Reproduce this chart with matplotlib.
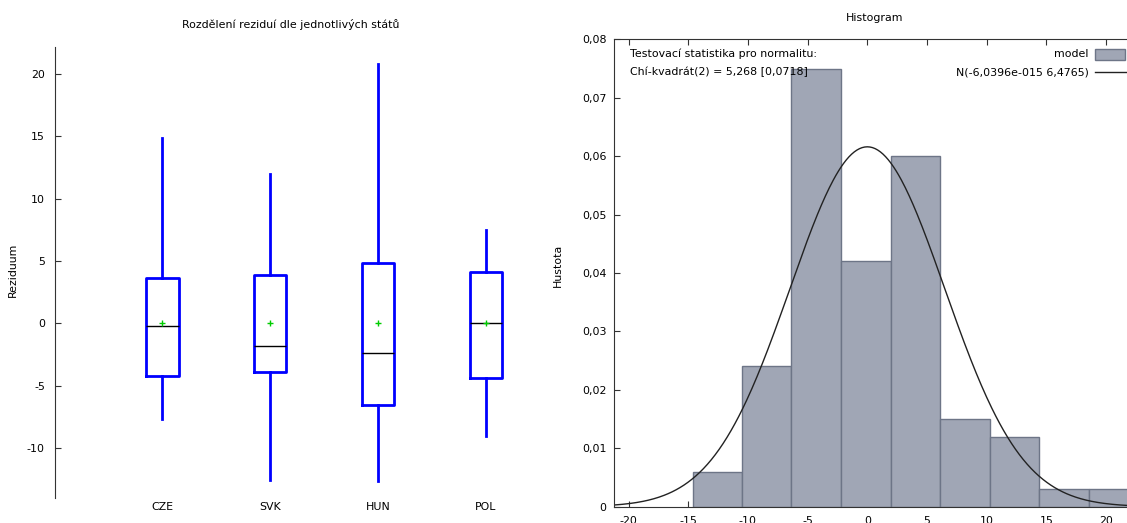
import numpy as np
import matplotlib.pyplot as plt
from matplotlib.patches import Rectangle
from matplotlib.lines import Line2D
from matplotlib.ticker import FuncFormatter

# box plot of residuals per country
countries = ["CZE", "SVK", "HUN", "POL"]
whis_lo = [-7.67, -12.54, -12.65, -9.01]
q1 = [-4.25, -3.90, -6.58, -4.41]
median = [-0.19, -1.82, -2.35, 0.0]
q3 = [3.61, 3.90, 4.87, 4.14]
whis_hi = [14.84, 11.95, 20.83, 7.51]
means = [0.0, 0.0, 0.0, 0.0]

# histogram of residuals (density) + fitted normal
bin_edges = [-14.63, -10.51, -6.36, -2.21, 1.94, 6.09, 10.24, 14.39, 18.54, 22.69]
density = [0.006, 0.024, 0.075, 0.042, 0.060, 0.015, 0.012, 0.003, 0.003]
norm_mu = -6.0396e-15
norm_sd = 6.4765

W, H = 1127, 523
plt.rcParams['font.family'] = 'DejaVu Sans'
plt.rcParams['axes.unicode_minus'] = False
fig = plt.figure(figsize=(W / 100, H / 100), dpi=100)
fs = 7.9

comma = FuncFormatter(lambda v, p: ("%g" % round(v, 4)).replace(".", ","))

# ---- left: box plot ----
ax1 = fig.add_axes([54.6 / W, 25.3 / H, 496 / W, 451 / H])
stats = []
for i in range(len(countries)):
    stats.append(dict(whislo=whis_lo[i], q1=q1[i], med=median[i], q3=q3[i],
                      whishi=whis_hi[i], mean=means[i], label=countries[i]))
ax1.bxp(stats, positions=[1, 2, 3, 4], widths=0.3, showcaps=False,
        showfliers=False, showmeans=True,
        boxprops=dict(color="#0000ff", lw=2),
        whiskerprops=dict(color="#0000ff", lw=2),
        medianprops=dict(color="black", lw=1),
        meanprops=dict(marker="+", markeredgecolor="#00cc00",
                       markersize=5, markeredgewidth=1))
ax1.set_xlim(0, 4.6)
ax1.set_ylim(-14.0, 22.2)
ax1.set_yticks([-10, -5, 0, 5, 10, 15, 20])
for s in ["top", "right", "bottom"]:
    ax1.spines[s].set_visible(False)
ax1.spines["left"].set_color("#333333")
ax1.tick_params(axis="y", direction="in", length=4, pad=7, labelsize=fs,
                colors="#333333", labelcolor="black")
ax1.tick_params(axis="x", length=0, pad=3, labelsize=fs)
ax1.set_ylabel("Reziduum", fontsize=fs)
ax1.yaxis.set_label_coords(-0.074, 0.505)
fig.text(291 / W, 1 - 25 / H, "Rozdělení reziduí dle jednotlivých států",
         ha="center", va="center", fontsize=fs)

# ---- right: histogram (right edge runs just past the canvas) ----
px_w = 1134 - 613.5
ax2 = fig.add_axes([613.5 / W, 16.3 / H, px_w / W, 467.4 / H])
widths = np.diff(bin_edges)
ax2.bar(bin_edges[:-1], density, width=widths, align="edge",
        color="#a0a6b5", edgecolor="#6d7587", linewidth=1, zorder=2)
xs = np.linspace(-21.3, 22.5, 400)
pdf = np.exp(-0.5 * ((xs - norm_mu) / norm_sd) ** 2) / (norm_sd * np.sqrt(2 * np.pi))
ax2.plot(xs, pdf, color="#222222", lw=1, zorder=3)
ax2.set_xlim(-21.26, -21.26 + px_w / 11.94)
ax2.set_ylim(0, 0.08)
ax2.set_xticks([-20, -15, -10, -5, 0, 5, 10, 15, 20])
ax2.set_yticks([0, 0.01, 0.02, 0.03, 0.04, 0.05, 0.06, 0.07, 0.08])
ax2.yaxis.set_major_formatter(comma)
ax2.set_axisbelow(True)
ax2.tick_params(direction="in", length=4, labelsize=fs, top=True, right=True,
                colors="#333333", labelcolor="black")
ax2.tick_params(axis="y", pad=5)
ax2.tick_params(axis="x", pad=7)
for s in ax2.spines.values():
    s.set_color("#333333")
    s.set_zorder(4)
ax2.set_ylabel("Hustota", fontsize=fs)
ax2.yaxis.set_label_coords(-50.5 / px_w, 0.517)
fig.text(875 / W, 1 - 18 / H, "Histogram", ha="center", va="center", fontsize=fs)


def ax_x(px):
    return (px - 613.5) / px_w


ax2.text(ax_x(629.8), 0.9686, "Testovací statistika pro normalitu:",
         transform=ax2.transAxes, ha="left", va="center", fontsize=fs, zorder=5)
ax2.text(ax_x(629.8), 0.930, "Chí-kvadrát(2) = 5,268 [0,0718]",
         transform=ax2.transAxes, ha="left", va="center", fontsize=fs, zorder=5)

# key
ax2.text(ax_x(1088.8), 0.9686, "model", transform=ax2.transAxes,
         ha="right", va="center", fontsize=fs, zorder=5)
ax2.add_patch(Rectangle((ax_x(1094.5), 0.9557), ax_x(1125) - ax_x(1094.5), 0.0236,
                        transform=ax2.transAxes, facecolor="#a0a6b5",
                        edgecolor="#6d7587", lw=1, zorder=5))
ax2.text(ax_x(1088.8), 0.930, "N(-6,0396e-015 6,4765)", transform=ax2.transAxes,
         ha="right", va="center", fontsize=fs, zorder=5)
ax2.add_line(Line2D([ax_x(1094.5), ax_x(1127)], [0.930, 0.930], transform=ax2.transAxes,
                    color="#222222", lw=1, zorder=5))

fig.savefig("out.png", dpi=100)
